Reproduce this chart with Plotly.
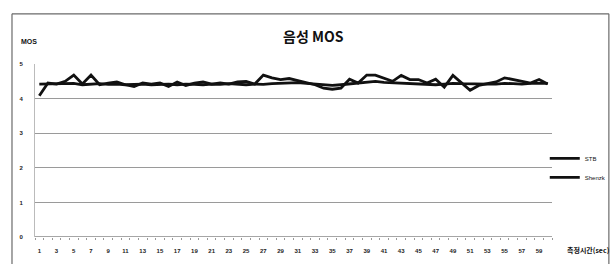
import plotly.graph_objects as go

seconds = list(range(1, 61))
tick_vals = list(range(1, 60, 2))
tick_text = [str(v) for v in tick_vals]
y_ticks = [0, 1, 2, 3, 4, 5]

stb = [4.08, 4.45, 4.42, 4.50, 4.68, 4.42, 4.68, 4.40, 4.45, 4.48,
       4.40, 4.35, 4.45, 4.42, 4.45, 4.35, 4.48, 4.38, 4.45, 4.48,
       4.42, 4.45, 4.42, 4.48, 4.50, 4.42, 4.68, 4.60, 4.55, 4.58,
       4.52, 4.45, 4.40, 4.30, 4.27, 4.30, 4.56, 4.45, 4.68, 4.68,
       4.58, 4.50, 4.67, 4.55, 4.55, 4.45, 4.56, 4.33, 4.67, 4.45,
       4.24, 4.38, 4.42, 4.48, 4.60, 4.55, 4.48, 4.45, 4.55, 4.42]
bench = [4.42, 4.42, 4.43, 4.42, 4.44, 4.40, 4.42, 4.43, 4.41, 4.42,
         4.40, 4.41, 4.42, 4.40, 4.41, 4.42, 4.40, 4.42, 4.41, 4.40,
         4.42, 4.41, 4.43, 4.42, 4.40, 4.42, 4.41, 4.43, 4.44, 4.45,
         4.46, 4.44, 4.42, 4.40, 4.38, 4.40, 4.42, 4.44, 4.48, 4.50,
         4.47, 4.46, 4.45, 4.44, 4.43, 4.42, 4.40, 4.42, 4.44, 4.43,
         4.42, 4.41, 4.42, 4.42, 4.44, 4.43, 4.42, 4.44, 4.43, 4.44]
series_names = ["STB", "Shenzk"]

fig = go.Figure()
for name, vals in zip(series_names, [stb, bench]):
    fig.add_trace(go.Scatter(x=seconds, y=vals, mode="lines", name=name,
                             line=dict(color="#111111", width=2.8)))

font_lat = "Liberation Sans"
border = dict(color="#6a6a6a", width=1.2)
fig.update_layout(
    width=616, height=266,
    margin=dict(l=35, r=64, t=64, b=29, autoexpand=False),
    paper_bgcolor="white", plot_bgcolor="white",
    showlegend=True,
    legend=dict(x=0.986, y=0.40, xanchor="left", yanchor="middle",
                font=dict(family=font_lat, size=6, color="#111"),
                itemwidth=30, tracegroupgap=4, bgcolor="rgba(0,0,0,0)"),
    xaxis=dict(range=[0.5, 60.5], tickmode="array", tickvals=tick_vals,
               ticktext=[f"<b>{t}</b>" for t in tick_text],
               tickfont=dict(family=font_lat, size=6, color="#222"),
               showgrid=False, zeroline=False, showline=False,
               ticks="", ticklabelstandoff=9,
               minor=dict(ticks="outside", dtick=1, tick0=0.5, ticklen=2,
                          tickcolor="#999", showgrid=False)),
    yaxis=dict(range=[0, 5], tickvals=y_ticks,
               ticktext=[f"<b>{v}</b>" for v in y_ticks],
               tickfont=dict(family=font_lat, size=6, color="#222"),
               showgrid=True, gridcolor="#9a9a9a", gridwidth=1,
               zeroline=False, showline=True, linecolor="#bbbbbb",
               ticks="", ticklabelstandoff=10),
    annotations=[
        dict(text="<b>음성 MOS</b>", x=0.538, y=1.159, xref="paper", yref="paper",
             showarrow=False, yanchor="middle",
             font=dict(family="Noto Sans CJK KR", size=14, color="#111")),
        dict(text="<b>MOS</b>", x=0.008, y=1.13, xref="paper", yref="paper",
             showarrow=False, xanchor="right", yanchor="middle",
             font=dict(family=font_lat, size=7, color="#111")),
        dict(text="<b>측정시간(sec)</b>", x=1.116, y=-0.075, xref="paper", yref="paper",
             showarrow=False, xanchor="right", yanchor="middle",
             font=dict(family="Noto Sans CJK KR", size=7, color="#111")),
    ],
    shapes=[
        dict(type="line", xref="paper", yref="paper", x0=-0.0445, x1=1.11,
             y0=1.29, y1=1.29, line=border),
        dict(type="line", xref="paper", yref="paper", x0=-0.0445, x1=-0.0445,
             y0=-0.156, y1=1.29, line=border),
        dict(type="line", xref="paper", yref="paper", x0=1.11, x1=1.11,
             y0=-0.156, y1=1.29, line=border),
        dict(type="line", xref="paper", yref="y", x0=0, x1=1, y0=0, y1=0,
             line=dict(color="#888", width=1.5)),
    ],
)

fig.write_html(
    "out.html",
    config={"displayModeBar": False},
    post_script=(
        "document.documentElement.style.overflow='hidden';"
        "document.body.style.margin='0';"
        "document.body.style.overflow='hidden';"
    ),
)
